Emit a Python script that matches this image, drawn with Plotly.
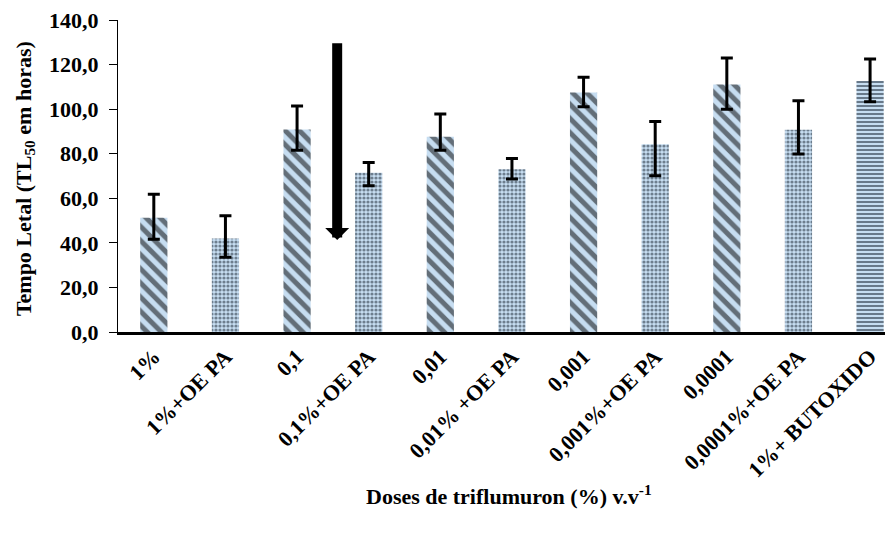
import plotly.graph_objects as go

categories = ["1%", "1%+OE PA", "0,1", "0,1%+OE PA", "0,01", "0,01% +OE PA",
              "0,001", "0,001%+OE PA", "0,0001", "0,0001%+OE PA", "1%+ BUTOXIDO"]
values = [51.3, 42.0, 90.9, 71.5, 87.6, 73.0, 107.5, 84.2, 111.1, 90.8, 112.6]
err_plus = [10.5, 10.2, 10.5, 4.6, 10.2, 4.9, 6.8, 10.3, 11.8, 13.0, 9.9]
err_minus = [9.7, 8.5, 9.3, 5.9, 6.0, 4.4, 6.4, 14.1, 11.1, 10.9, 9.3]
patterns = ["\\", ".", "\\", ".", "\\", ".", "\\", ".", "\\", ".", "-"]

arrow_x = 2.56
arrow_top = 130.2
arrow_tip = 41.3

FONT = "Liberation Serif"
xs = list(range(len(categories)))

fg = {"\\": "#000000", ".": "#14202c", "-": "#0a1624"}
sz = {"\\": 10, ".": 4, "-": 4}
sol = {"\\": 0.5, ".": 0.5, "-": 0.5}

fig = go.Figure()
fig.add_trace(go.Bar(
    x=xs, y=values, width=0.38,
    marker=dict(
        color="#c6ddf1",
        line=dict(width=0),
        pattern=dict(
            shape=patterns,
            fgcolor=[fg[p] for p in patterns],
            bgcolor="#c6ddf1",
            size=[sz[p] for p in patterns],
            solidity=[sol[p] for p in patterns],
            fillmode="overlay",
        ),
    ),
    error_y=dict(type="data", symmetric=False, array=err_plus, arrayminus=err_minus,
                 color="black", thickness=3, width=6),
    showlegend=False,
))

fig.add_annotation(
    x=arrow_x, y=arrow_tip, ax=arrow_x, ay=arrow_top,
    xref="x", yref="y", axref="x", ayref="y",
    showarrow=True, arrowhead=1, arrowsize=0.4, arrowwidth=10, arrowcolor="black", text="",
)

fig.add_annotation(
    text="<b>Tempo Letal (TL<sub>50</sub> em horas)</b>", textangle=-90,
    xref="paper", yref="paper", x=-0.12, y=0.49, xanchor="center", yanchor="middle",
    showarrow=False, font=dict(family=FONT, size=22, color="black"),
)
fig.add_annotation(
    text="<b>Doses de triflumuron (%) v.v<sup>-1</sup></b>",
    xref="paper", yref="paper", x=0.505, y=-0.522, xanchor="center", yanchor="middle",
    showarrow=False, font=dict(family=FONT, size=22, color="black"),
)

fig.update_layout(
    width=893, height=534,
    margin=dict(l=110, r=8, t=12, b=210, autoexpand=False),
    paper_bgcolor="white", plot_bgcolor="white",
    separators=",.",
    font=dict(family=FONT, size=22, color="black"),
)
fig.update_xaxes(
    range=[-0.5, 10.32], tickmode="array", tickvals=xs, ticktext=[f"<b>{c}</b>" for c in categories],
    tickangle=-45, showline=True, linecolor="black", linewidth=3, ticks="",
    showgrid=False, zeroline=False, tickfont=dict(family=FONT, size=22, color="black"),
    automargin=False, ticklabeloverflow="allow",
)
fig.update_yaxes(
    range=[0, 140], dtick=20, tickformat=".1f", showline=True, linecolor="black", linewidth=1,
    ticks="outside", ticklen=8, tickwidth=1, tickcolor="black", showgrid=False, zeroline=False,
    tickfont=dict(family=FONT, size=22, color="black"),
    tickprefix="<b>", ticksuffix="</b>", ticklabelstandoff=6, automargin=False,
    ticklabeloverflow="allow",
)

fig.write_html("out.html")
